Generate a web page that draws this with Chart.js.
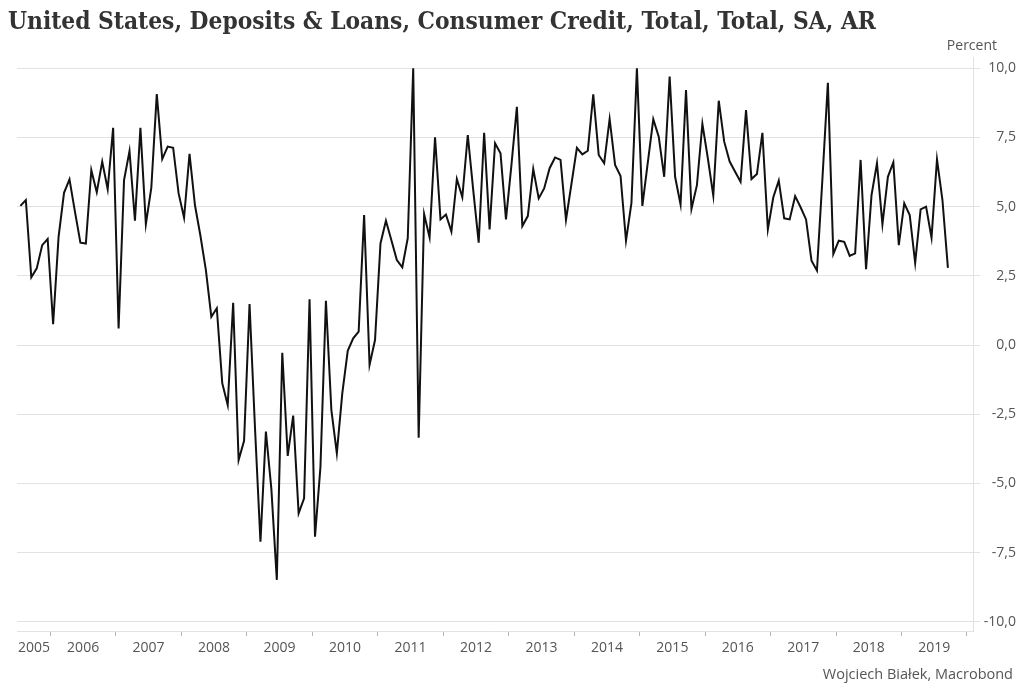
<!DOCTYPE html>
<html><head><meta charset="utf-8">
<script src="https://cdn.jsdelivr.net/npm/chart.js@4.4.1/dist/chart.umd.min.js"></script>
<style>
html,body{margin:0;padding:0;background:#fff;width:1024px;height:696px;overflow:hidden;}
#wrap{position:relative;width:1024px;height:696px;}
#c{position:absolute;left:0;top:0;}
#title{position:absolute;left:8px;top:6px;font-family:"DejaVu Serif Condensed","DejaVu Serif",serif;font-weight:bold;font-size:24px;color:#333;white-space:nowrap;transform-origin:0 0;line-height:normal;}
#unit{position:absolute;right:27px;top:35px;font-family:"Open Sans",sans-serif;font-size:14px;color:#555;line-height:normal;}
#src{position:absolute;right:11px;top:664px;font-family:"Open Sans",sans-serif;font-size:14.5px;color:#555;line-height:normal;}
</style></head>
<body><div id="wrap"><canvas id="c" width="1024" height="696"></canvas>
<div id="title">United States, Deposits &amp; Loans, Consumer Credit, Total, Total, SA, AR</div>
<div id="unit">Percent</div>
<div id="src">Wojciech Białek, Macrobond</div></div>
<script>
// Monthly values (percent, SA, AR). 2005 starts in July, 2019 ends in September.
const years = [2005,2006,2007,2008,2009,2010,2011,2012,2013,2014,2015,2016,2017,2018,2019];
const firstMonth2005 = 6; // July (0-based)
const v2005 = [5.03, 5.24, 2.45, 2.77, 3.61, 3.83];
const v2006 = [0.75, 3.91, 5.50, 5.99, 4.82, 3.70, 3.67, 6.32, 5.52, 6.63, 5.63, 7.85];
const v2007 = [0.60, 5.96, 7.01, 4.49, 7.85, 4.37, 5.69, 9.07, 6.72, 7.17, 7.13, 5.48];
const v2008 = [4.60, 6.91, 5.05, 3.95, 2.71, 1.02, 1.33, -1.38, -2.17, 1.53, -4.16, -3.46];
const v2009 = [1.48, -3.00, -7.11, -3.13, -5.20, -8.49, -0.28, -4.01, -2.55, -6.08, -5.54, 1.65];
const v2010 = [-6.93, -4.40, 1.60, -2.35, -3.91, -1.75, -0.21, 0.24, 0.48, 4.70, -0.72, 0.18];
const v2011 = [3.67, 4.49, 3.79, 3.07, 2.81, 3.86, 10.0, -3.35, 4.73, 3.89, 7.51, 4.54];
const v2012 = [4.72, 4.10, 6.00, 5.34, 7.59, 5.60, 3.70, 7.67, 4.18, 7.29, 6.93, 4.54];
const v2013 = [6.50, 8.61, 4.30, 4.66, 6.36, 5.30, 5.66, 6.39, 6.78, 6.69, 4.52, 5.82];
const v2014 = [7.13, 6.89, 7.02, 9.06, 6.87, 6.57, 8.17, 6.51, 6.11, 3.77, 5.14, 10.0];
const v2015 = [5.03, 6.60, 8.16, 7.53, 6.08, 9.70, 6.08, 5.08, 9.22, 4.92, 5.78, 7.99];
const v2016 = [6.75, 5.40, 8.83, 7.35, 6.63, 6.26, 5.90, 8.49, 6.00, 6.18, 7.67, 4.18];
const v2017 = [5.34, 5.94, 4.58, 4.54, 5.38, 4.98, 4.54, 3.05, 2.69, 6.00, 9.48, 3.29];
const v2018 = [3.77, 3.73, 3.22, 3.31, 6.69, 2.74, 5.42, 6.57, 4.36, 6.08, 6.60, 3.61];
const v2019 = [5.12, 4.70, 2.97, 4.90, 5.00, 3.88, 6.71, 5.24, 2.79];
const seriesByYear = [v2005,v2006,v2007,v2008,v2009,v2010,v2011,v2012,v2013,v2014,v2015,v2016,v2017,v2018,v2019];
const yTickValues = [-10, -7.5, -5, -2.5, 0, 2.5, 5, 7.5, 10];
const yearBoundaryTicks = [12,24,36,48,60,72,84,96,108,120,132,144,156,168,180];
const yearLabelTicks = [9,18,30,42,54,66,78,90,102,114,126,138,150,162,174];

// fit title width
const t = document.getElementById('title');
const w = t.getBoundingClientRect().width;
t.style.transform = 'scaleX(' + (868 / w) + ')';

const points = [];
years.forEach((yr, k) => {
  const start = k === 0 ? firstMonth2005 : 0;
  seriesByYear[k].forEach((v, j) => points.push({x: (yr - 2005) * 12 + start + j + 0.5, y: v}));
});

Chart.defaults.font.family = "'Open Sans', sans-serif";
new Chart(document.getElementById('c'), {
  type: 'line',
  data: { datasets: [{ data: points, borderColor: '#111', borderWidth: 2, pointRadius: 0, tension: 0, fill: false }] },
  options: {
    responsive: false, animation: false, devicePixelRatio: 1,
    layout: { padding: { left: 17, right: 8, top: 57, bottom: 0 } },
    plugins: { legend: { display: false }, tooltip: { enabled: false } },
    scales: {
      x: {
        type: 'linear', min: 5.88, max: 181.1,
        afterBuildTicks: s => { s.ticks = yearLabelTicks.concat(yearBoundaryTicks).sort((a,b)=>a-b).map(v => ({value: v})); },
        afterFit: s => { s.height = 65; },
        grid: { drawOnChartArea: false, drawTicks: true, tickLength: 5,
          color: c => (c.tick && c.tick.value % 12 === 0) ? '#b5b5b5' : 'rgba(0,0,0,0)' },
        border: { display: true, color: '#e2e2e2' },
        ticks: { autoSkip: false, maxRotation: 0, padding: 4, color: '#555', font: { size: 14 },
          callback: v => (v % 12 === 0) ? '' : String(2005 + Math.floor(v / 12)) }
      },
      y: {
        position: 'right', min: -10.336, max: 10.41,
        afterBuildTicks: s => { s.ticks = yTickValues.map(v => ({value: v})); },
        afterFit: s => { s.width = 43; },
        grid: { color: '#e2e2e2', tickLength: 7, drawTicks: true },
        border: { display: true, color: '#e2e2e2' },
        ticks: { crossAlign: 'far', padding: 4, color: '#555', font: { size: 14 },
          callback: v => v.toFixed(1).replace('.', ',') }
      }
    }
  }
});
</script>
</body></html>
